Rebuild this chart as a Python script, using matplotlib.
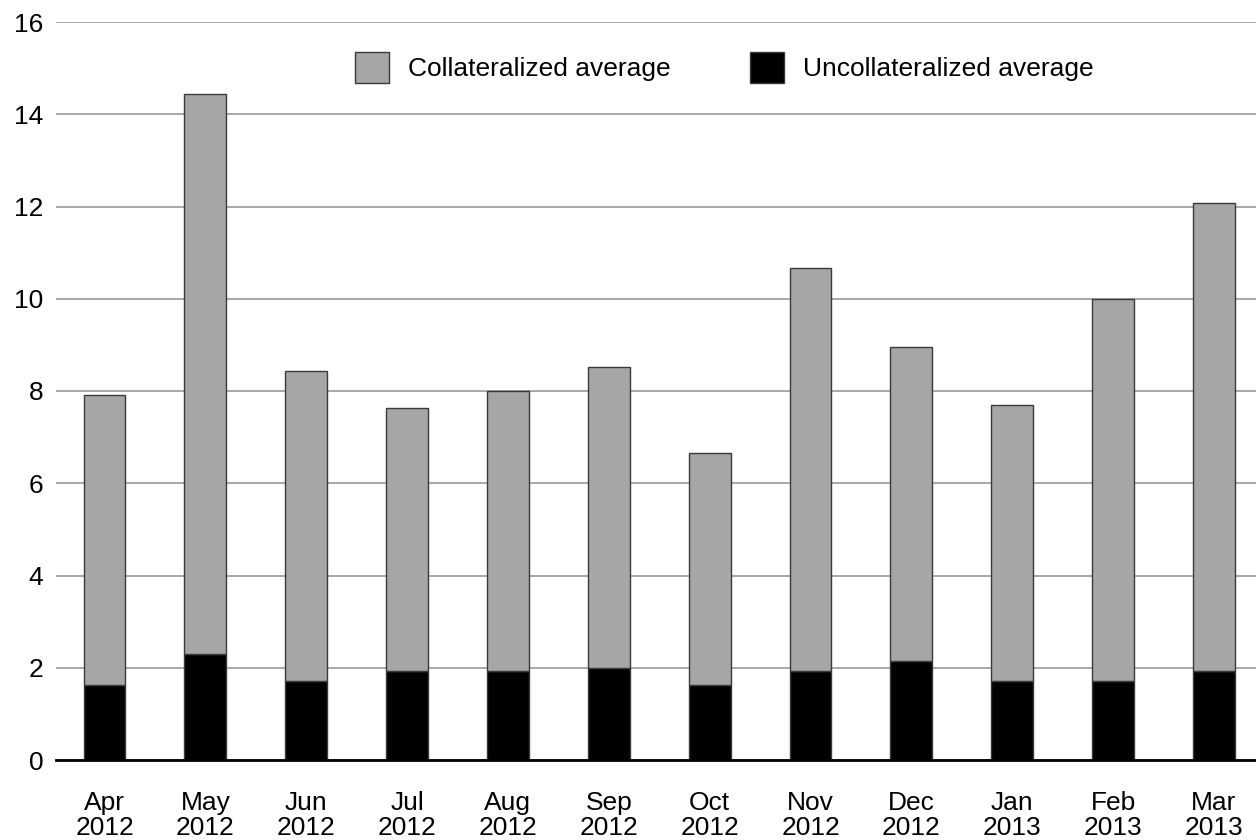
#!/usr/bin/env python3
import matplotlib
matplotlib.use("Agg")
import matplotlib.pyplot as plt
import numpy as np

# --- Data -------------------------------------------------------------------
months = ["Apr\n2012", "May\n2012", "Jun\n2012", "Jul\n2012", "Aug\n2012", "Sep\n2012",
          "Oct\n2012", "Nov\n2012", "Dec\n2012", "Jan\n2013", "Feb\n2013", "Mar\n2013"]
uncollateralized = [1.63, 2.30, 1.71, 1.94, 1.94, 2.00, 1.63, 1.94, 2.15, 1.71, 1.71, 1.94]
total = [7.92, 14.43, 8.44, 7.64, 8.00, 8.51, 6.66, 10.67, 8.96, 7.70, 10.00, 12.07]
collateralized = [t - u for t, u in zip(total, uncollateralized)]

yticks = [0, 2, 4, 6, 8, 10, 12, 14, 16]

# --- Plot -------------------------------------------------------------------
plt.rcParams["font.family"] = ["Liberation Sans", "DejaVu Sans"]
fs = 19

fig = plt.figure(figsize=(12.56, 8.4), dpi=100)
ax = fig.add_axes([56 / 1256, 80 / 840, 1 - 56 / 1256, 738 / 840])

x = np.arange(len(months))
w = 0.415
edge = "#3a3a3a"
ax.bar(x, uncollateralized, width=w, color="black", edgecolor=edge, linewidth=1.0,
       zorder=3, label="Uncollateralized average")
ax.bar(x, collateralized, width=w, bottom=uncollateralized, color="#a6a6a6",
       edgecolor=edge, linewidth=1.0, zorder=3, label="Collateralized average")

ax.set_ylim(0, 16)
ax.set_xlim(-0.481, 11.417)
ax.set_yticks(yticks)
ax.set_xticks(x)
ax.set_xticklabels(months, linespacing=1.05)
ax.tick_params(axis="both", length=0, labelsize=fs, colors="black")
ax.tick_params(axis="y", pad=9)
ax.tick_params(axis="x", pad=22)

ax.yaxis.grid(True, color="#9a9a9a", linewidth=1.2, zorder=0)
for s in ["top", "right", "left"]:
    ax.spines[s].set_visible(False)
ax.spines["bottom"].set_linewidth(2.0)
ax.spines["bottom"].set_color("black")
ax.spines["bottom"].set_zorder(4)

handles, labels = ax.get_legend_handles_labels()
leg = ax.legend(handles[::-1], labels[::-1], loc="upper left", ncol=2,
                bbox_to_anchor=(355 / 1256, 1 - 52 / 840), bbox_transform=fig.transFigure,
                frameon=False, fontsize=fs, handlelength=1.3, handleheight=1.45,
                handletextpad=0.72, columnspacing=3.0, borderpad=0, borderaxespad=0)

fig.savefig("out.png", dpi=100)
